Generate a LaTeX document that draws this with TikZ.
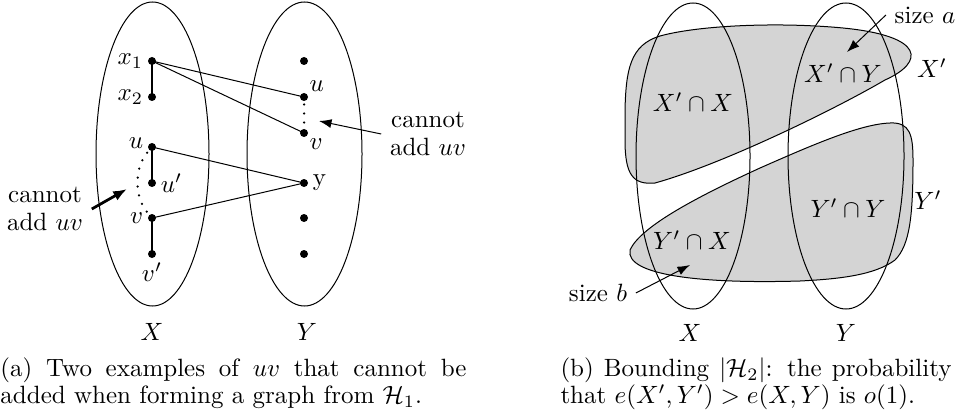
\documentclass[tikz,border=0pt]{standalone}
\usepackage{amsmath, amssymb}
\usepackage{xcolor}
\usepackage{tikz}
\usetikzlibrary{arrows.meta}

\definecolor{blobgray}{gray}{0.83}

\begin{document}
\begin{tikzpicture}[x=0.4pt, y=-0.4pt,
        every node/.style={font=\fontsize{10}{11}\selectfont},
        thinedge/.style={line width=0.4pt},
        thickedge/.style={line width=1.1pt},
        dotedge/.style={line width=1pt, line cap=round, dash pattern=on 0pt off 3.6pt},
        pointer/.style={line width=0.4pt, -{Latex[length=5pt,width=3.6pt]}},
        bigpointer/.style={line width=1.1pt, -{Latex[length=5.5pt,width=4.2pt]}},
        blob/.style={fill=blobgray, draw=black, line width=0.4pt}]
        \useasboundingbox (0,0) rectangle (958,419);

        % (a) the two sides
        \coordinate (cX) at (152.5,154);
        \coordinate (cY) at (304.5,154);
        \draw[thinedge] (cX) ellipse [x radius=56.5, y radius=152];
        \draw[thinedge] (cY) ellipse [x radius=57.5, y radius=152];
        \node (labXa) at (152,332) {$X$};
        \node (labYa) at (307,332) {$Y$};

        \coordinate (x1) at (152,61);
        \coordinate (x2) at (152,97);
        \coordinate (uL) at (152,147);
        \coordinate (upL) at (152,183);
        \coordinate (vL) at (152,218);
        \coordinate (vpL) at (152,254);
        \coordinate (r1) at (304,61);
        \coordinate (uR) at (304,97);
        \coordinate (vR) at (304,133);
        \coordinate (yR) at (304,183);
        \coordinate (r5) at (304,218);
        \coordinate (r6) at (304,254);

        \draw[thinedge] (x1) -- (uR);
        \draw[thinedge] (x1) -- (vR);
        \draw[thinedge] (uL) -- (yR);
        \draw[thinedge] (vL) -- (yR);
        \draw[thickedge] (x1) -- (x2);
        \draw[thickedge] (uL) -- (upL);
        \draw[thickedge] (vL) -- (vpL);
        \draw[dotedge, shorten <=3pt, shorten >=3pt] (uR) -- (vR);
        \draw[dotedge, shorten <=3pt, shorten >=3pt] (uL) to[bend right=40] (vL);

        \fill (x1) circle (1.6pt) node[left] (lx1) {$x_1$};
        \fill (x2) circle (1.6pt) node[left] (lx2) {$x_2$};
        \fill (uL) circle (1.6pt) node[left, yshift=1.5pt] (luL) {$u$};
        \fill (upL) circle (1.6pt) node[right] (lupL) {$u'$};
        \fill (vL) circle (1.6pt) node[left] (lvL) {$v$};
        \fill (vpL) circle (1.6pt) node[below] (lvpL) {$v'$};
        \fill (r1) circle (1.6pt);
        \fill (uR) circle (1.6pt) node[above right, inner sep=2pt] (luR) {$u$};
        \fill (vR) circle (1.6pt) node[below right, inner sep=2pt] (lvR) {$v$};
        \fill (yR) circle (1.6pt) node[right] (lyR) {y};
        \fill (r5) circle (1.6pt);
        \fill (r6) circle (1.6pt);

        \node[align=center] (cantL) at (45,209) {cannot\\add $uv$};
        \node[align=center] (cantR) at (428,134) {cannot\\add $uv$};
        \coordinate (headL) at (127,189);
        \coordinate (headR) at (319,121);
        \draw[bigpointer] (cantL.east) -- (headL);
        \draw[pointer] (cantR.west) -- (headR);

        % (b) the blobs X' and Y'
        \draw[blob] (655,183) .. controls (720,165) and (830,112) .. (885,80)
            .. controls (925,62) and (925,36) .. (843,28)
            .. controls (780,22) and (700,25) .. (660,36)
            .. controls (630,45) and (626,70) .. (625,110)
            -- (625,140) .. controls (625,175) and (633,185) .. (655,183) -- cycle;
        \draw[blob] (630,250) .. controls (640,228) and (690,200) .. (760,168)
            .. controls (810,146) and (860,124) .. (890,123)
            .. controls (910,122) and (913,135) .. (913,160)
            .. controls (913,215) and (910,245) .. (895,260)
            .. controls (875,275) and (840,279) .. (800,281)
            .. controls (700,284) and (625,275) .. (630,250) -- cycle;

        \coordinate (cXb) at (693,156);
        \coordinate (cYb) at (846,156);
        \draw[thinedge] (cXb) ellipse [x radius=57, y radius=153];
        \draw[thinedge] (cYb) ellipse [x radius=58, y radius=153];
        \node (labXb) at (690,333) {$X$};
        \node (labYb) at (846,333) {$Y$};

        \node (xpx) at (693,102) {$X'\cap X$};
        \node (xpy) at (843,73) {$X'\cap Y$};
        \node (ypy) at (848,208) {$Y'\cap Y$};
        \node (ypx) at (692,240) {$Y'\cap X$};
        \node (labXp) at (932,68) {$X'$};
        \node (labYp) at (928,200) {$Y'$};

        \node (sizeA) at (925,15) {size $a$};
        \node (sizeB) at (598,293) {size $b$};
        \coordinate (headA) at (847,52);
        \coordinate (headB) at (690,265);
        \draw[pointer] (sizeA.west) -- (headA);
        \draw[pointer] (sizeB.east) -- (headB);

        % captions
        \node[anchor=north west, text width=186.4pt, align=justify, inner sep=0pt,
            font=\fontsize{10}{11}\selectfont] (capA) at (0,357)
            {(a) Two examples of $uv$ that cannot be added when forming a graph from $\mathcal{H}_1$.};
        \node[anchor=north west, text width=156.4pt, align=justify, inner sep=0pt,
            font=\fontsize{10}{11}\selectfont] (capB) at (560,357)
            {(b) Bounding $|\mathcal{H}_2|$: the probability that $e(X',Y') > e(X,Y)$ is $o(1)$.};
    \end{tikzpicture}
\end{document}
